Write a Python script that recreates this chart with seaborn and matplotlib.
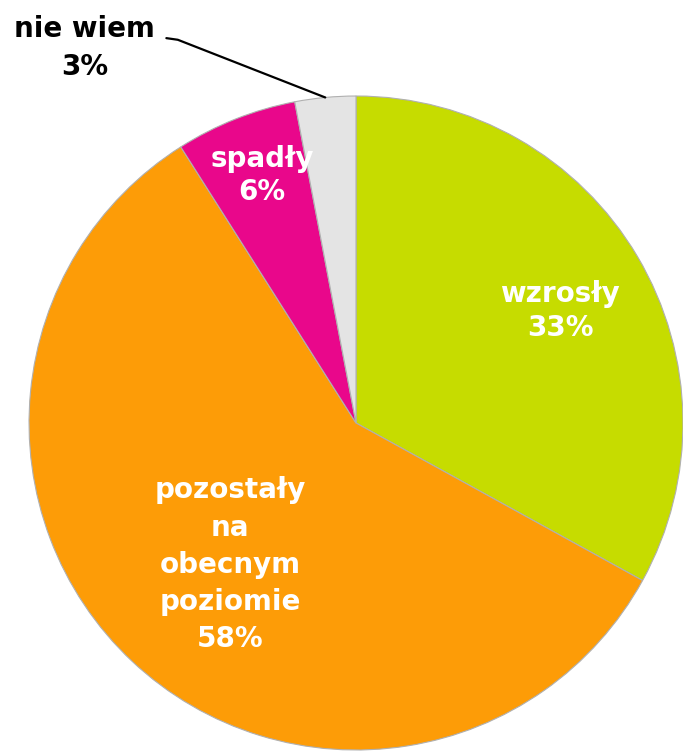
import numpy as np
import matplotlib
matplotlib.use("Agg")
import matplotlib.pyplot as plt
import seaborn as sns

# ------------------------ DATA ------------------------
labels = ["wzrosły", "pozostały\nna\nobecnym\npoziomie", "spadły", "nie wiem"]
values = [33, 58, 6, 3]
colors = ["#c6dc00", "#fd9c07", "#e9078b", "#e4e4e4"]
text_colors = ["white", "white", "white", "black"]
label_radius = [0.712, 0.58, 0.81, None]
label_turn = [-1.8, 1.6, -0.8, 0]   # small angular nudge (deg) of each label
label_spacing = [1.25, 1.42, 1.25, 1.45]

sns.set_theme(style="white")
plt.rcParams['font.family'] = ['DejaVu Sans']

fig = plt.figure(figsize=(6.83, 7.53), dpi=100)
ax = fig.add_axes([0.0425, 0.004, 0.9575, 0.8685])

wedges, _ = ax.pie(
    values,
    colors=colors,
    startangle=90,
    counterclock=False,
    radius=1.0,
    wedgeprops={'edgecolor': '#b0b0b0', 'linewidth': 0.8},
)
ax.set_xlim(-1, 1)
ax.set_ylim(-1, 1)
ax.set_aspect('equal')
ax.axis('off')

total = sum(values)
for w, lab, v, tc, r, dt, ls in zip(wedges, labels, values, text_colors,
                                    label_radius, label_turn, label_spacing):
    mid = np.deg2rad((w.theta1 + w.theta2) / 2 + dt)
    txt = f"{lab}\n{round(100 * v / total)}%"
    if r is not None:
        ax.text(r * np.cos(mid), r * np.sin(mid), txt, ha='center', va='center',
                color=tc, fontsize=20, fontweight='bold', linespacing=ls)
    else:
        # outside label with leader line
        ex, ey = 1.0 * np.cos(mid), 1.0 * np.sin(mid)
        ax.text(-0.83, 1.147, txt, ha='center', va='center', color=tc,
                fontsize=20, fontweight='bold', linespacing=ls, clip_on=False)
        ax.plot([-0.58, -0.545, ex], [1.177, 1.172, ey], color='black',
                linewidth=1.6, clip_on=False)

fig.savefig("out.png", dpi=100)
plt.close(fig)
